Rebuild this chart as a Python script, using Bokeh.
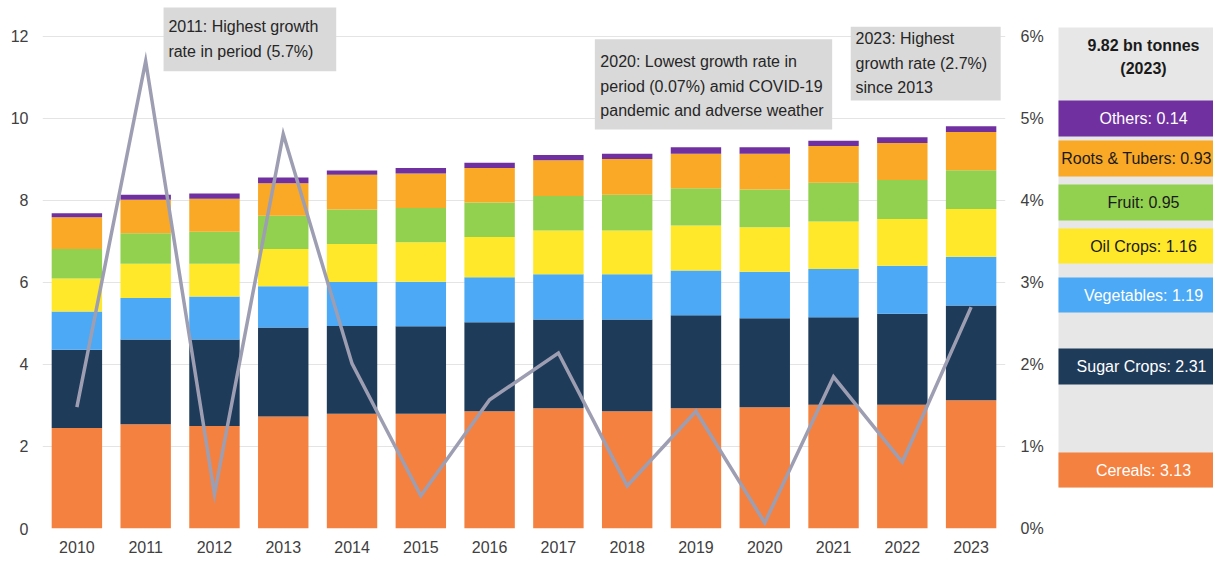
from bokeh.plotting import figure
from bokeh.models import Range1d, FactorRange, LinearAxis, FixedTicker, ColumnDataSource
from bokeh.layouts import row
from bokeh.core.properties import value
from bokeh.embed import file_html
from bokeh.resources import INLINE

# ---------------- data ----------------
years = ["2010", "2011", "2012", "2013", "2014", "2015", "2016",
         "2017", "2018", "2019", "2020", "2021", "2022", "2023"]
cereals = [2.45, 2.54, 2.50, 2.73, 2.80, 2.80, 2.86, 2.93, 2.86, 2.93, 2.96, 3.02, 3.02, 3.13]
sugar   = [1.91, 2.07, 2.11, 2.17, 2.14, 2.13, 2.17, 2.17, 2.24, 2.27, 2.17, 2.13, 2.22, 2.31]
veg     = [0.93, 1.01, 1.05, 1.01, 1.07, 1.09, 1.10, 1.10, 1.10, 1.09, 1.13, 1.18, 1.17, 1.19]
oil     = [0.81, 0.84, 0.80, 0.91, 0.93, 0.96, 0.98, 1.07, 1.07, 1.10, 1.09, 1.16, 1.14, 1.16]
fruit   = [0.72, 0.74, 0.78, 0.81, 0.84, 0.84, 0.84, 0.84, 0.87, 0.91, 0.92, 0.94, 0.95, 0.95]
roots   = [0.77, 0.82, 0.80, 0.79, 0.85, 0.84, 0.84, 0.87, 0.87, 0.84, 0.87, 0.90, 0.90, 0.93]
others  = [0.10, 0.12, 0.13, 0.14, 0.10, 0.13, 0.13, 0.13, 0.13, 0.16, 0.16, 0.13, 0.14, 0.14]
growth_pct = [1.48, 5.70, 0.42, 4.81, 2.01, 0.40, 1.57, 2.14, 0.52, 1.43, 0.07, 1.85, 0.81, 2.70]

series_keys = ["cereals", "sugar", "veg", "oil", "fruit", "roots", "others"]
series_names = ["Cereals", "Sugar Crops", "Vegetables", "Oil Crops", "Fruit", "Roots & Tubers", "Others"]
series_colors = ["#F4813F", "#1F3B5A", "#4BA9F6", "#FFE82A", "#92D14F", "#FAA927", "#7030A0"]
label_colors = ["white", "white", "white", "#1a1a1a", "#1a1a1a", "#1a1a1a", "white"]

left_ticks = [0, 2, 4, 6, 8, 10, 12]
pct_ticks = [0, 1, 2, 3, 4, 5, 6]
pct_labels = ["0%", "1%", "2%", "3%", "4%", "5%", "6%"]

total_title = "9.82 bn tonnes\n(2023)"

notes = [
    "2011: Highest growth\nrate in period (5.7%)",
    "2020: Lowest growth rate in\nperiod (0.07%) amid COVID-19\npandemic and adverse weather",
    "2023: Highest\ngrowth rate (2.7%)\nsince 2013",
]

# ---------------- layout (positions) ----------------
# annotation boxes in axis units: left, right, top, bottom
note_left = [1.76, 8.03, 11.75]
note_right = [4.27, 11.48, 13.93]
note_top = [12.71, 11.93, 12.24]
note_bottom = [11.15, 9.73, 10.44]
note_text_x = [1.83, 8.11, 11.82]
note_text_y = [12.44, 11.60, 12.16]

# legend panel boxes (pixel layout of the side panel): top, bottom, text centre x
panel_top = [452, 348, 277, 228, 184, 140, 100]
panel_bottom = [487, 384, 312, 263, 220, 176, 136]
panel_text_x = [1143, 1141, 1143, 1143, 1143, 1136, 1143]

FONT = value("Liberation Sans")
TXT = "#404040"

# ---------------- main chart ----------------
data = dict(year=years, cereals=cereals, sugar=sugar, veg=veg, oil=oil,
            fruit=fruit, roots=roots, others=others)
src = ColumnDataSource(data)

p = figure(x_range=FactorRange(factors=years), y_range=Range1d(0, 12.878),
           width=1050, height=561, output_backend="svg", toolbar_location=None,
           min_border_left=42, min_border_right=45, min_border_top=0, min_border_bottom=33)
p.outline_line_color = None
p.background_fill_color = "white"
p.border_fill_color = "white"

p.extra_y_ranges = {"pct": Range1d(0, 6.439)}

p.vbar_stack(series_keys, x="year", width=0.733, color=series_colors,
             line_color=None, source=src)

p.line(x=years, y=growth_pct, y_range_name="pct", line_color="#9E9EB3",
       line_width=3.5, line_join="miter")

p.quad(left=note_left, right=note_right, top=note_top, bottom=note_bottom,
       fill_color="#D9D9D9", line_color=None)
p.text(x=note_text_x, y=note_text_y, text=notes, text_font=FONT,
       text_font_size="16px", text_baseline="top", text_align="left",
       text_line_height=1.45, text_color="#262626")

# axes
p.yaxis.ticker = FixedTicker(ticks=left_ticks)
p.ygrid.ticker = FixedTicker(ticks=left_ticks)
p.ygrid.grid_line_color = "#E4E4E4"
p.xgrid.grid_line_color = None

raxis = LinearAxis(y_range_name="pct", ticker=FixedTicker(ticks=pct_ticks),
                   major_label_overrides={t: l for t, l in zip(pct_ticks, pct_labels)})
p.add_layout(raxis, "right")

for ax in [p.xaxis[0], p.yaxis[0], raxis]:
    ax.axis_line_color = None
    ax.major_tick_line_color = None
    ax.minor_tick_line_color = None
    ax.major_tick_in = 0
    ax.major_tick_out = 0
    ax.major_label_text_font = "Liberation Sans"
    ax.major_label_text_font_size = "16px"
    ax.major_label_text_color = TXT
p.yaxis[0].major_label_standoff = 14
raxis.major_label_standoff = 15
p.xaxis[0].major_label_standoff = 12

# ---------------- side panel ----------------
# frame is aligned with the main chart's frame (pixel rows 0..528)
q = figure(x_range=Range1d(1050, 1213), y_range=Range1d(528, 0),
           width=163, height=561, output_backend="svg", toolbar_location=None,
           x_axis_location=None, y_axis_location=None, min_border=0,
           min_border_bottom=33)
q.outline_line_color = None
q.grid.visible = False

q.quad(left=[1058], right=[1240], top=[27], bottom=[487],
       fill_color="#E7E7E7", line_color=None)
q.quad(left=[1058] * 7, right=[1240] * 7, top=panel_top, bottom=panel_bottom,
       fill_color=series_colors, line_color=None)

last = [s[-1] for s in [cereals, sugar, veg, oil, fruit, roots, others]]
labels = [f"{n}: {v:.2f}" for n, v in zip(series_names, last)]
centers = [(a + b) / 2 for a, b in zip(panel_top, panel_bottom)]
q.text(x=panel_text_x, y=centers, text=labels, text_font=FONT, text_font_size="16px",
       text_align="center", text_baseline="middle", text_color=label_colors)
q.text(x=[1143], y=[36], text=[total_title], text_font=FONT, text_font_size="16px",
       text_font_style="bold", text_align="center", text_baseline="top",
       text_line_height=1.4, text_color="#1a1a1a")

layout = row(p, q)
open("out.html", "w").write(file_html(layout, INLINE))
